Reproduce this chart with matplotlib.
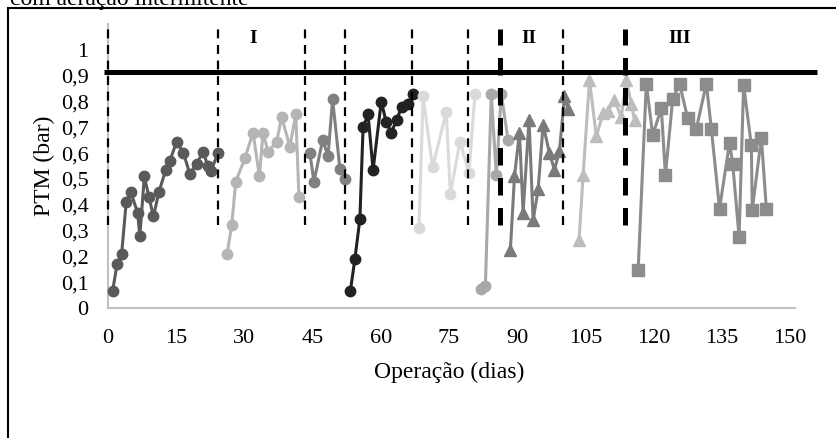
import matplotlib.pyplot as plt
from matplotlib.patches import Rectangle

# data (day, PTM in bar)
d1 = [1, 2, 3, 4, 5, 6.5, 7, 8, 9, 10, 11.2, 12.7, 13.6, 15.1, 16.6, 18, 19.5, 20.9, 22, 22.6, 24.2]
v1 = [0.065, 0.17, 0.21, 0.41, 0.45, 0.37, 0.28, 0.51, 0.43, 0.355, 0.45, 0.535, 0.57, 0.645, 0.60, 0.52, 0.56, 0.605, 0.55, 0.53, 0.60]

d2 = [26.2, 27.2, 28.1, 30.1, 31.9, 33.3, 34.1, 35.2, 37.1, 38.2, 40, 41.3, 42]
v2 = [0.21, 0.32, 0.49, 0.58, 0.68, 0.51, 0.68, 0.605, 0.645, 0.74, 0.625, 0.75, 0.43]

d3 = [44.4, 45.3, 47.2, 48.4, 49.4, 51, 52.1]
v3 = [0.60, 0.49, 0.65, 0.59, 0.81, 0.54, 0.50]

d4 = [53.3, 54.3, 55.4, 56.1, 57.2, 58.3, 60.1, 61.2, 62.3, 63.5, 64.6, 66, 67]
v4 = [0.065, 0.19, 0.345, 0.70, 0.75, 0.535, 0.80, 0.72, 0.68, 0.73, 0.78, 0.79, 0.83]

d5 = [68.4, 69.3, 71.4, 74.4, 75.3, 77.4, 79.4, 80.7]
v5 = [0.31, 0.82, 0.545, 0.76, 0.44, 0.645, 0.525, 0.83]

d6 = [82.1, 83, 84.3, 85.4, 86.5, 88]
v6 = [0.075, 0.085, 0.83, 0.515, 0.83, 0.65]

d7 = [88.5, 89.4, 90.5, 91.3, 92.6, 93.5, 94.6, 95.7, 97.1, 98.2, 99.3, 100.4, 101.2]
v7 = [0.225, 0.51, 0.68, 0.37, 0.73, 0.34, 0.46, 0.71, 0.60, 0.535, 0.61, 0.82, 0.77]

d8 = [103.6, 104.5, 105.9, 107.4, 108.9, 110, 111.4, 112.9, 114, 115.1, 115.8]
v8 = [0.265, 0.515, 0.885, 0.665, 0.755, 0.765, 0.805, 0.74, 0.885, 0.79, 0.73]

d9 = [116.6, 118.4, 119.8, 121.7, 122.6, 124.2, 125.7, 127.5, 129.4, 131.6, 132.7, 134.5,
      136.7, 137.4, 138.8, 139.8, 141.5, 141.7, 143.7, 144.8]
v9 = [0.147, 0.87, 0.67, 0.775, 0.515, 0.81, 0.87, 0.735, 0.695, 0.87, 0.695, 0.385,
      0.64, 0.56, 0.275, 0.865, 0.63, 0.38, 0.66, 0.385]

phase_days = [0, 24.2, 43.3, 52.1, 66.8, 79.1, 100]   # thin dashed
stage_days = [86.2, 113.8]                            # thick dashed
stage_names = ['I', 'II', 'III']
stage_x = [32, 92.5, 125.7]
limit_ptm = 0.915

xticks = [0, 15, 30, 45, 60, 75, 90, 105, 120, 135, 150]
yticks = [0, 0.1, 0.2, 0.3, 0.4, 0.5, 0.6, 0.7, 0.8, 0.9, 1]
ylabels = ['0', '0,1', '0,2', '0,3', '0,4', '0,5', '0,6', '0,7', '0,8', '0,9', '1']

plt.rcParams['font.family'] = ['Liberation Serif', 'DejaVu Serif']

fig = plt.figure(figsize=(8.36, 4.38), dpi=100)
ax = fig.add_axes([108/836, 1 - 308/438, (790 - 108)/836, 1.1*258/438])

series = [
    (d1, v1, '#5a5a5a', 'o', 7.5),
    (d2, v2, '#b5b5b5', 'o', 7.5),
    (d3, v3, '#808080', 'o', 7.5),
    (d4, v4, '#222222', 'o', 7.5),
    (d5, v5, '#dadada', 'o', 7.5),
    (d6, v6, '#a8a8a8', 'o', 7.5),
    (d7, v7, '#7a7a7a', '^', 8),
    (d8, v8, '#bdbdbd', '^', 8),
    (d9, v9, '#8c8c8c', 's', 8),
]
for d, v, c, m, ms in series:
    ax.plot(d, v, color=c, marker=m, markersize=ms, lw=2.2, zorder=3, clip_on=False)

for xd in phase_days:
    ax.plot([xd, xd], [0.32, 1.08], color='black', lw=1.6, ls=(0, (4, 3)), zorder=5, clip_on=False)
for xd in stage_days:
    ax.plot([xd, xd], [0.32, 1.08], color='black', lw=3.6, ls=(0, (3.5, 2.5)), zorder=5, clip_on=False)

ax.plot([-0.9, 156], [limit_ptm, limit_ptm], color='black', lw=3.6, zorder=6, clip_on=False,
        solid_capstyle='butt')

for name, xs in zip(stage_names, stage_x):
    ax.text(xs, 1.045, name, ha='center', va='center', fontsize=14, fontweight='bold')

ax.set_xlim(0, 150)
ax.set_ylim(0, 1.1)
ax.set_xticks(xticks)
ax.set_yticks(yticks)
ax.set_yticklabels(ylabels)
ax.tick_params(length=0, labelsize=16)
ax.tick_params(axis='y', pad=14)
ax.tick_params(axis='x', pad=15)
for s in ['top', 'right']:
    ax.spines[s].set_visible(False)
ax.spines['left'].set_bounds(0, 1.1)
ax.spines['bottom'].set_bounds(0, 151)
for s in ['left', 'bottom']:
    ax.spines[s].set_color('#c0c0c0')
    ax.spines[s].set_linewidth(1.5)

ax.set_xlabel('Operação (dias)', fontsize=17, labelpad=10)
ax.set_ylabel('PTM (bar)', fontsize=17, labelpad=4)

# outer frame and clipped caption line above it
fig.patches.append(Rectangle((8/836, -0.1), 1.0, 1 - 8/438 + 0.1, transform=fig.transFigure,
                             fill=False, edgecolor='black', lw=1.5))
fig.text(10/836, 1.0, 'com aeração intermitente', fontsize=17, ha='left', va='center')

fig.savefig('out.png', dpi=100)
